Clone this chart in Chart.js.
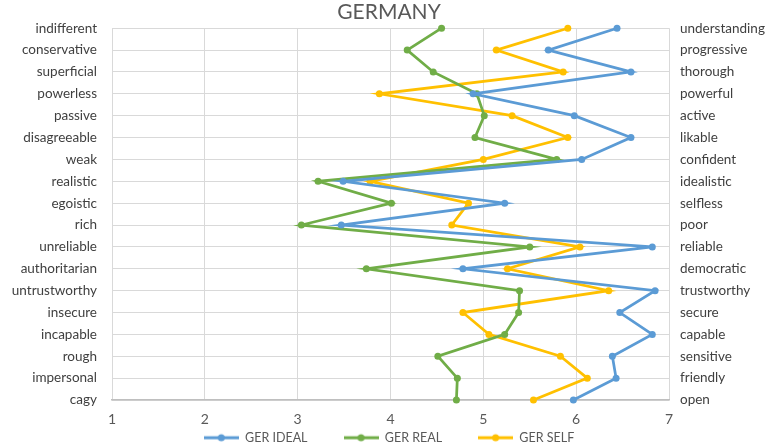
<!DOCTYPE html>
<html>
<head>
<meta charset="utf-8">
<script src="https://cdn.jsdelivr.net/npm/chart.js@4/dist/chart.umd.min.js"></script>
<style>
  html, body { margin: 0; padding: 0; background: #fff; }
  #wrap { width: 778px; height: 447px; }
</style>
</head>
<body>
<div id="wrap"><canvas id="GermanyChart" width="778" height="447"></canvas></div>
<script>
// left / right poles of each scale
var leftLabels = ['indifferent', 'conservative', 'superficial', 'powerless', 'passive', 'disagreeable', 'weak',
  'realistic', 'egoistic', 'rich', 'unreliable', 'authoritarian', 'untrustworthy', 'insecure', 'incapable',
  'rough', 'impersonal', 'cagy'];
var rightLabels = ['understanding', 'progressive', 'thorough', 'powerful', 'active', 'likable', 'confident',
  'idealistic', 'selfless', 'poor', 'reliable', 'democratic', 'trustworthy', 'secure', 'capable',
  'sensitive', 'friendly', 'open'];
var xTicks = [1, 2, 3, 4, 5, 6, 7];

// values
var gerIdeal = [6.44, 5.70, 6.59, 4.89, 5.98, 6.59, 6.06, 3.49, 5.23, 3.47, 6.82, 4.78, 6.85, 6.47, 6.82, 6.39, 6.43, 5.97];
var gerReal  = [4.55, 4.18, 4.46, 4.93, 5.01, 4.91, 5.79, 3.22, 4.01, 3.04, 5.50, 3.74, 5.39, 5.38, 5.23, 4.51, 4.72, 4.71];
var gerSelf  = [5.91, 5.14, 5.86, 3.88, 5.31, 5.91, 5.00, 3.78, 4.84, 4.66, 6.04, 5.26, 6.35, 4.78, 5.06, 5.83, 6.12, 5.54];

var FONT = 'Lato';
var LEGEND_PAD = 36;

//small legend marker: line with a dot in the middle
function legendMark(color) {
  var c = document.createElement('canvas');
  c.width = 35; c.height = 10;
  var g = c.getContext('2d');
  g.strokeStyle = color; g.lineWidth = 3;
  g.beginPath(); g.moveTo(0, 5); g.lineTo(35, 5); g.stroke();
  g.fillStyle = color;
  g.beginPath(); g.arc(17.5, 5, 3.5, 0, Math.PI * 2); g.fill();
  return c;
}

function series(label, data, color) {
  return {
    label: label,
    data: data,
    borderColor: color,
    backgroundColor: color,
    borderWidth: 2.75,
    pointRadius: 3.5,
    pointHoverRadius: 3.5,
    pointBackgroundColor: color,
    pointBorderWidth: 0,
    pointStyle: 'circle',
    tension: 0,
    fill: false,
    clip: false,
    xAxisID: 'x',
    yAxisID: 'y'
  };
}

// legend needs wide gaps between items but a short box, so squeeze it after fit
var legendFix = {
  id: 'legendFix',
  beforeLayout: function (chart) {
    var lg = chart.legend;
    if (lg && !lg._squeezed) {
      var fit = lg.fit;
      lg.fit = function () { fit.call(this); this.height = 20; };
      lg._squeezed = true;
    }
  },
  afterLayout: function (chart) {
    var lg = chart.legend;
    if (lg) { lg.top = 438 - LEGEND_PAD - 6.5; }
  }
};

new Chart(document.getElementById('GermanyChart'), {
  type: 'line',
  data: {
    labels: leftLabels,
    datasets: [
      series('GER IDEAL', gerIdeal, '#5B9BD5'),
      series('GER REAL', gerReal, '#70AD47'),
      series('GER SELF', gerSelf, '#FFC000')
    ]
  },
  plugins: [legendFix],
  options: {
    indexAxis: 'y',
    responsive: false,
    animation: false,
    layout: { padding: 0 },
    scales: {
      x: {
        type: 'linear',
        position: 'bottom',
        min: 1,
        max: 7,
        afterBuildTicks: function (axis) { axis.ticks = xTicks.map(function (v) { return { value: v }; }); },
        grid: { color: '#d9d9d9', drawTicks: false },
        border: { color: '#bfbfbf', width: 1.5 },
        ticks: { color: '#595959', font: { family: FONT, size: 14 }, padding: 11 },
        afterFit: function (axis) { axis.height = 27; }
      },
      y: {
        type: 'category',
        position: 'left',
        offset: false,
        grid: { color: '#d9d9d9', drawTicks: false },
        border: { display: false },
        ticks: { color: '#404040', font: { family: FONT, size: 13.5 }, padding: 15, autoSkip: false },
        afterFit: function (axis) { axis.width = 112; }
      },
      y2: {
        type: 'category',
        position: 'right',
        labels: rightLabels,
        offset: false,
        grid: { display: false, drawTicks: false },
        border: { display: false },
        ticks: { color: '#404040', font: { family: FONT, size: 13.5 }, padding: 11, autoSkip: false },
        afterFit: function (axis) { axis.width = 109; }
      }
    },
    plugins: {
      title: {
        display: true,
        text: 'GERMANY',
        color: '#595959',
        font: { family: FONT, size: 21, weight: 'normal' },
        padding: { top: 0, bottom: 3 }
      },
      legend: {
        position: 'bottom',
        labels: {
          usePointStyle: true,
          pointStyleWidth: 35,
          color: '#595959',
          font: { family: FONT, size: 12.5 },
          padding: LEGEND_PAD,
          generateLabels: function (chart) {
            return chart.data.datasets.map(function (ds, i) {
              return {
                text: ds.label,
                fontColor: '#595959',
                pointStyle: legendMark(ds.borderColor),
                strokeStyle: ds.borderColor,
                fillStyle: ds.borderColor,
                lineWidth: 0,
                hidden: false,
                datasetIndex: i
              };
            });
          }
        }
      },
      tooltip: { enabled: false }
    }
  }
});
</script>
</body>
</html>
